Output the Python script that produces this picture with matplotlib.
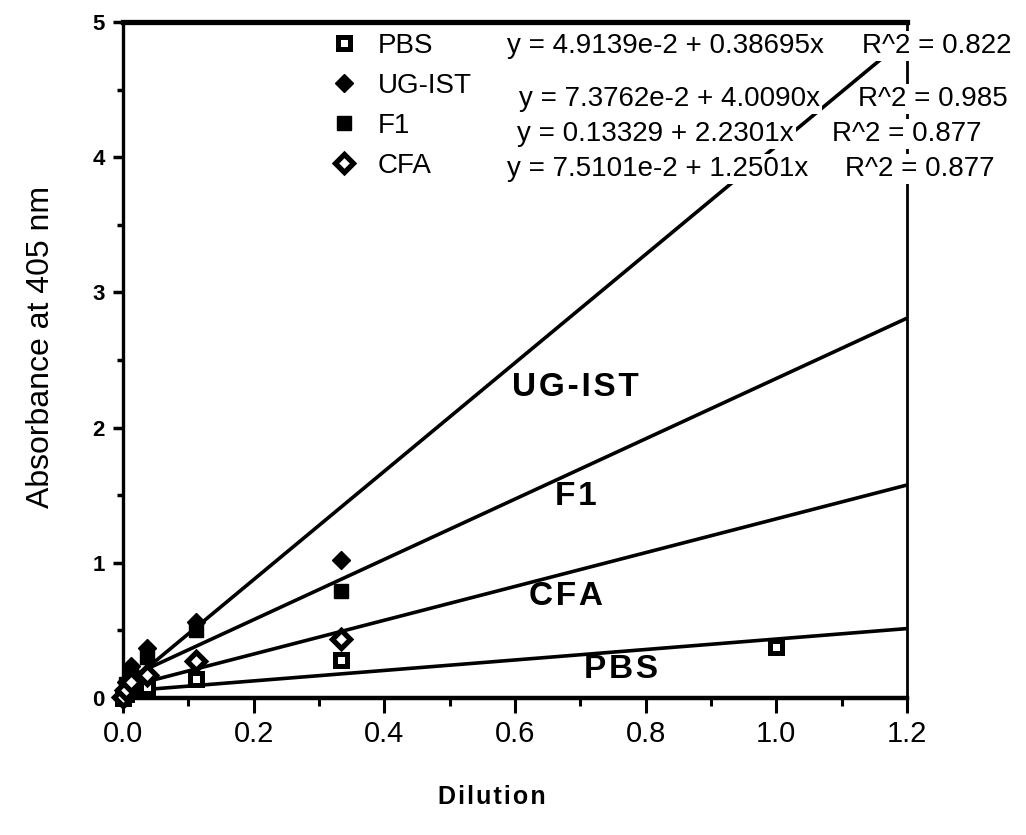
import matplotlib
matplotlib.use("Agg")
import matplotlib.pyplot as plt
import numpy as np

plt.rcParams["font.family"] = ["Liberation Sans", "DejaVu Sans"]

# dilution series (1/3 steps) and measured absorbance
dilution = [0.0, 1 / 243, 1 / 81, 1 / 27, 1 / 9, 1 / 3]
pbs_dilution = dilution + [1.0]

names = ["PBS", "UG-IST", "F1", "CFA"]
pbs_abs = [0.00, 0.03, 0.05, 0.08, 0.14, 0.28, 0.38]
ugist_abs = [0.02, 0.12, 0.24, 0.37, 0.56, 1.02]
f1_abs = [0.02, 0.10, 0.19, 0.30, 0.50, 0.79]
cfa_abs = [0.01, 0.06, 0.12, 0.17, 0.27, 0.44]

# linear fits y = a + b x
intercepts = [4.9139e-2, 7.3762e-2, 0.13329, 7.5101e-2]
slopes = [0.38695, 4.0090, 2.2301, 1.2501]
r_squared = [0.822, 0.985, 0.877, 0.877]

fit_range = np.array([0.0, 1.2])


def fmt_coef(v):
    if v < 0.1:
        return f"{v * 100:#.5g}e-2"
    return f"{v:#.5g}"


def spaced(s):
    # open up the letters a little, like the hand-set labels
    return "\u200a".join(s)


fig = plt.figure(figsize=(10.26, 8.35), dpi=100)
W, H = 1026, 835
ax = fig.add_axes([123 / W, 1 - 698 / H, 784 / W, 676 / H])

series = [(pbs_dilution, pbs_abs), (dilution, ugist_abs),
          (dilution, f1_abs), (dilution, cfa_abs)]
styles = [
    dict(marker="s", ms=9, mfc="white", mec="black", mew=3.6),
    dict(marker="D", ms=9.5, mfc="black", mec="black", mew=1),
    dict(marker="s", ms=9.5, mfc="black", mec="black", mew=1),
    dict(marker="D", ms=9, mfc="white", mec="black", mew=3.8),
]

for a, b in zip(intercepts, slopes):
    ax.plot(fit_range, a + b * fit_range, color="black", lw=2.6,
            solid_capstyle="butt", zorder=2)

handles = []
for (xs, ys), st in zip(series, styles):
    h, = ax.plot(xs, ys, ls="none", zorder=3, clip_on=False, **st)
    handles.append(h)

ax.set_xlim(0, 1.2)
ax.set_ylim(0, 5)

xt = np.arange(0, 1.21, 0.2)
ax.set_xticks(xt)
ax.set_xticks(np.arange(0.1, 1.2, 0.2), minor=True)
ax.set_xticklabels([f"{v:.1f}" for v in xt], fontsize=21)
ax.set_yticks(range(6))
ax.set_yticks(np.arange(0.5, 5, 1.0), minor=True)
ax.set_yticklabels([str(v) for v in range(6)], fontweight="bold",
                   fontsize=16)

ax.tick_params(axis="x", which="major", direction="out", length=11,
               width=2.2, pad=5)
ax.tick_params(axis="x", which="minor", direction="out", length=6,
               width=2.2)
ax.tick_params(axis="y", which="major", direction="out", length=7,
               width=2.5, pad=6)
ax.tick_params(axis="y", which="minor", direction="out", length=4,
               width=2.5)

ax.spines["top"].set_linewidth(3.8)
ax.spines["bottom"].set_linewidth(3.2)
ax.spines["left"].set_linewidth(2.4)
ax.spines["right"].set_linewidth(2)

ax.set_ylabel("Absorbance at 405 nm", fontsize=23)
ax.yaxis.set_label_coords(-0.085, 0.52)
ax.set_xlabel(spaced("Dilution"), fontsize=18, fontweight="bold")
ax.xaxis.set_label_coords(0.47, -0.128)

# series names next to their fit lines
name_pos = [(0.762, 0.21), (0.692, 2.30), (0.693, 1.49), (0.678, 0.75)]
for name, (px, py) in zip(names, name_pos):
    ax.text(px, py, spaced(name), fontsize=24, fontweight="bold",
            ha="center", va="center")

ax.legend(handles, names, loc="upper left",
          bbox_to_anchor=(332 / W, 1 - 33 / H), bbox_transform=fig.transFigure,
          frameon=False, fontsize=20, handlelength=0.85, handletextpad=0.8,
          labelspacing=0.5, borderpad=0, borderaxespad=0, numpoints=1)

# fit equations, drawn over the frame with a white backing
eq_end = [(824, 46), (820, 99), (794, 134), (808, 169)]
r2_start = [(862, 46), (858, 99), (832, 134), (845, 169)]
box = dict(facecolor="white", edgecolor="none", pad=1.5)
for a, b, r2, (ex, ey), (rx, ry) in zip(intercepts, slopes, r_squared,
                                         eq_end, r2_start):
    fig.text(ex / W, 1 - ey / H, f"y = {fmt_coef(a)} + {fmt_coef(b)}x",
             fontsize=20, ha="right", va="center", bbox=box, zorder=5)
    fig.text(rx / W, 1 - ry / H, f"R^2 = {r2:.3f}",
             fontsize=20, ha="left", va="center", bbox=box, zorder=5)

fig.savefig("out.png", dpi=100)
